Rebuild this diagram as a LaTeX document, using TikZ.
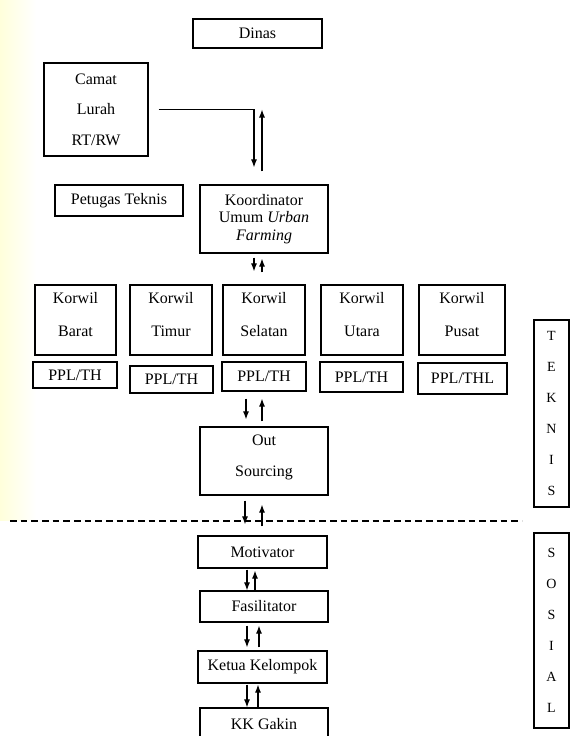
\documentclass[tikz,border=0pt]{standalone}
\usepackage{fontspec}
\setmainfont{Liberation Serif}
\usetikzlibrary{arrows.meta,calc}
\begin{document}
\begin{tikzpicture}[x=0.75pt,y=-0.75pt,
  box/.style={draw, line width=0.9pt, inner sep=0pt, align=center,
    font=\fontsize{12}{14}\selectfont},
  sz/.style 2 args={minimum width=#1*0.75pt, minimum height=#2*0.75pt},
  arr/.style={line width=0.8pt, -{Latex[length=6pt,width=4.5pt]}},
  vert/.style={box, font=\fontsize{10.5}{23.25}\selectfont}]
\useasboundingbox (0,0) rectangle (570,736);
\fill[left color=yellow!14, right color=white, draw=none] (0,0) rectangle (36,520);

% top part
\node[box, sz={129}{29}] (dinas) at (257.5,33.5) {Dinas};
\node[box, sz={104}{93}, font=\fontsize{12}{22.9}\selectfont] (camat) at (96,109.5) {Camat\\Lurah\\RT/RW};
\node[box, sz={128}{31}] (petugas) at (119,200.5) {Petugas Teknis};
\node[box, sz={128}{68}, font=\fontsize{12}{13.1}\selectfont] (koord) at (264,219) {Koordinator\\Umum \textit{Urban}\\\textit{Farming}};

% korwil row
\tikzset{kw/.style={box, font=\fontsize{12}{24.75}\selectfont, text depth=9pt}}
\node[kw, sz={81}{70}] (kb) at (75.5,320) {Korwil\\Barat};
\node[kw, sz={82}{70}] (kt) at (171,320) {Korwil\\Timur};
\node[kw, sz={82}{70}] (ks) at (264,320) {Korwil\\Selatan};
\node[kw, sz={82}{70}] (ku) at (362,320) {Korwil\\Utara};
\node[kw, sz={86}{70}] (kp) at (462,320) {Korwil\\Pusat};

% PPL row
\node[box, sz={84}{26}] (pb) at (75,375) {PPL/TH};
\node[box, sz={83}{27}] (pt) at (171.5,379.5) {PPL/TH};
\node[box, sz={84}{29}] (ps) at (264,376.5) {PPL/TH};
\node[box, sz={83}{30}] (pu) at (361.5,377) {PPL/TH};
\node[box, sz={89}{31}] (pp) at (462.5,378.5) {PPL/THL};

% out sourcing
\node[box, sz={128}{68}, font=\fontsize{12}{23.25}\selectfont, text depth=8pt] (out) at (264,461) {Out\\Sourcing};

% social part
\node[box, sz={129}{32}] (mot) at (262.5,552) {Motivator};
\node[box, sz={128}{31}] (fas) at (264,606.5) {Fasilitator};
\node[box, sz={129}{32}] (ketua) at (262.5,667) {Ketua Kelompok};
\node[box, sz={128}{32}] (kk) at (264,724) {KK Gakin};

% side labels
\node[vert, sz={35}{187}] (teknis) at (551.5,413.5) {T\\E\\K\\N\\I\\S};
\node[vert, sz={35}{195}] (sosial) at (551.5,630.5) {S\\O\\S\\I\\A\\L};

% dashed separator
\coordinate (dl) at (10,521);
\coordinate (dr) at (522,521);
\draw[line width=0.8pt, dash pattern=on 5pt off 3pt] (dl) -- (dr);

% connectors
\draw[arr] ($(camat.east)+(10,0)$) -| ($(koord.north)+(-10,-17)$);
\draw[arr] ($(koord.north)+(-2,-13)$) -- ($(koord.north |- camat.east)+(-2,0)$);

\draw[arr] ($(koord.south)+(-10,4)$) -- ($(ks.north)+(-10,-13)$);
\draw[arr] ($(ks.north)+(-2,-12)$) -- ($(koord.south)+(-2,5)$);

\draw[arr] ($(ps.south)+(-18,7)$) -- ($(out.north)+(-18,-7)$);
\draw[arr] ($(out.north)+(-2,-5)$) -- ($(ps.south)+(-2,7)$);

\draw[arr] ($(out.south)+(-19,5)$) -- ($(mot.north)+(-17.5,-11)$);
\draw[arr] ($(mot.north)+(-0.5,-9)$) -- ($(out.south)+(-2,9)$);

\draw[arr] ($(mot.south)+(-15.5,1)$) -- (fas.north -| 247,0);
\draw[arr] (fas.north -| 255,0) -- ($(mot.south)+(-7.5,2)$);

\draw[arr] ($(fas.south)+(-17,3)$) -- ($(ketua.north)+(-15.5,-3)$);
\draw[arr] ($(ketua.north)+(-3.5,-3)$) -- ($(fas.south)+(-5,3)$);

\draw[arr] ($(ketua.south)+(-15.5,1)$) -- (kk.north -| 247,0);
\draw[arr] (kk.north -| 258,0) -- ($(ketua.south)+(-4.5,1)$);
\end{tikzpicture}
\end{document}
